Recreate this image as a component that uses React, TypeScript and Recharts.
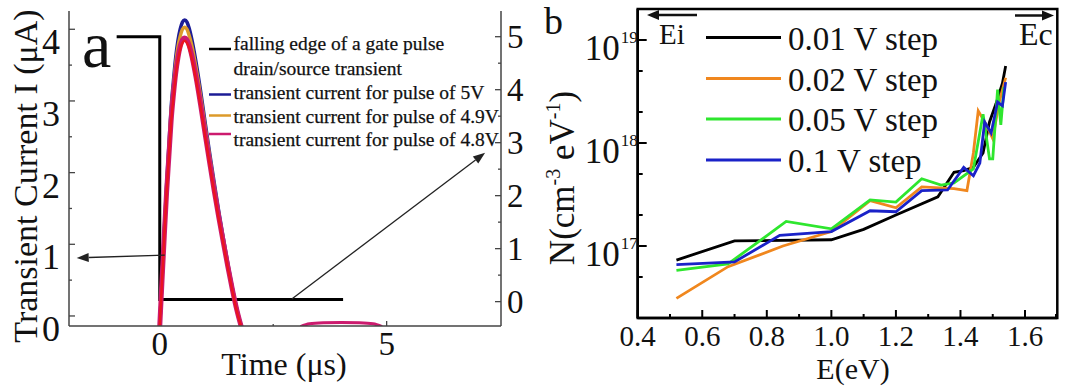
import { LineChart, Line, XAxis, YAxis, ReferenceLine, ReferenceArea } from "recharts";

const FONT = "Liberation Serif, Tinos, Times New Roman, DejaVu Serif, serif";
const fontStyle = { fontFamily: FONT };

// ---- panel a : transient currents (left axis, µA) and gate pulse (right axis, V)
const pulseTime = [0, 0.05, 0.1, 0.15, 0.2, 0.25, 0.3, 0.35, 0.4, 0.45, 0.5, 0.55, 0.6, 0.65, 0.7, 0.8, 0.9, 1.0, 1.1, 1.2, 1.3, 1.4, 1.5, 1.6, 1.7, 1.8];
const current5V = [-0.14, 0.52, 1.18, 1.82, 2.36, 2.9, 3.27, 3.6, 3.84, 4.0, 4.1, 4.13, 4.1, 4.01, 3.88, 3.54, 3.14, 2.7, 2.27, 1.86, 1.46, 1.09, 0.73, 0.39, 0.09, -0.16];
const current49V = [-0.14, 0.51, 1.15, 1.78, 2.3, 2.83, 3.19, 3.51, 3.75, 3.9, 4.0, 4.03, 4.0, 3.91, 3.79, 3.46, 3.07, 2.64, 2.22, 1.81, 1.42, 1.07, 0.71, 0.38, 0.08, -0.16];
const current48V = [-0.14, 0.5, 1.12, 1.72, 2.22, 2.72, 3.08, 3.38, 3.6, 3.76, 3.85, 3.88, 3.85, 3.77, 3.65, 3.33, 2.95, 2.54, 2.14, 1.75, 1.38, 1.03, 0.69, 0.37, 0.08, -0.16];
const currentDS = [-0.14, 0.48, 1.1, 1.7, 2.2, 2.69, 3.04, 3.34, 3.57, 3.72, 3.81, 3.84, 3.81, 3.73, 3.61, 3.29, 2.92, 2.51, 2.11, 1.72, 1.35, 1.01, 0.67, 0.35, 0.06, -0.16];

const bumpTime = [3.1, 3.3, 3.6, 4.0, 4.4, 4.7, 4.9];
const bumpCurrent = [-0.15, -0.11, -0.095, -0.09, -0.095, -0.11, -0.15];

const gateTime = [-0.95, 0, 0, 4.04];
const gateVolt = [5, 5, 0.04, 0.04];

const leftTicksA = [0, 0.5, 1, 1.5, 2, 2.5, 3, 3.5, 4];
const rightTicksA = [0, 0.5, 1, 1.5, 2, 2.5, 3, 3.5, 4, 4.5, 5];
const timeTicks = [0, 2.5, 5];

const legendA = [
  { label: "falling edge of a gate pulse", color: "#000000" },
  { label: "drain/source transient", color: "" },
  { label: "transient current for pulse of 5V", color: "#1c1c96" },
  { label: "transient current for pulse of 4.9V", color: "#dc9a2a" },
  { label: "transient current for pulse of 4.8V", color: "#cc1a6e" },
];

// ---- panel b : trap density vs energy
const energy001 = [0.52, 0.7, 1.0, 1.1, 1.2, 1.33, 1.38, 1.41, 1.44, 1.47, 1.49, 1.51, 1.53, 1.54];
const density001 = [7.3e16, 1.12e17, 1.15e17, 1.45e17, 2.0e17, 3.0e17, 5.2e17, 5.4e17, 5.8e17, 8e17, 1.6e18, 2.4e18, 3.8e18, 5.6e18];
const energy002 = [0.52, 0.68, 0.85, 1.0, 1.12, 1.2, 1.28, 1.38, 1.42, 1.44, 1.455, 1.48, 1.5, 1.52, 1.54];
const density002 = [3.1e16, 6.3e16, 1.0e17, 1.38e17, 2.76e17, 2.35e17, 3.75e17, 3.6e17, 3.45e17, 8e17, 2.05e18, 1.5e18, 1.1e18, 2.5e18, 4.3e18];
const energy005 = [0.52, 0.68, 0.86, 1.0, 1.12, 1.2, 1.28, 1.34, 1.38, 1.44, 1.47, 1.49, 1.5, 1.515, 1.525, 1.535];
const density005 = [5.8e16, 6.7e16, 1.73e17, 1.47e17, 2.8e17, 2.67e17, 4.5e17, 3.9e17, 4.1e17, 5.6e17, 1.9e18, 7e17, 7e17, 3.3e18, 1.5e18, 3.5e18];
const energy01 = [0.52, 0.7, 0.84, 1.0, 1.12, 1.2, 1.28, 1.36, 1.41, 1.44, 1.46, 1.475, 1.495, 1.515, 1.53, 1.54];
const density01 = [6.6e16, 7.0e16, 1.27e17, 1.38e17, 2.2e17, 2.15e17, 3.45e17, 3.5e17, 5.8e17, 4.8e17, 6.4e17, 1.6e18, 1.25e18, 2.5e18, 2.3e18, 3.9e18];

const energyTicks = [0.4, 0.5, 0.6, 0.7, 0.8, 0.9, 1.0, 1.1, 1.2, 1.3, 1.4, 1.5, 1.6, 1.7];
const densityTicks = [
  2e16, 3e16, 4e16, 5e16, 6e16, 7e16, 8e16, 9e16,
  1e17, 2e17, 3e17, 4e17, 5e17, 6e17, 7e17, 8e17, 9e17,
  1e18, 2e18, 3e18, 4e18, 5e18, 6e18, 7e18, 8e18, 9e18,
  1e19, 2e19,
];

const legendB = [
  { label: "0.01 V step", color: "#000000" },
  { label: "0.02 V step", color: "#f0871e" },
  { label: "0.05 V step", color: "#2ee62e" },
  { label: "0.1 V step", color: "#1a22c8" },
];

const pulseData = pulseTime.map((t, i) => ({
  t,
  i5: current5V[i],
  i49: current49V[i],
  i48: current48V[i],
  ids: currentDS[i],
}));
const bumpData = bumpTime.map((t, i) => ({ t, ib: bumpCurrent[i] }));
const gateData = gateTime.map((t, i) => ({ t, v: gateVolt[i] }));

const toPts = (xs: number[], ys: number[]) => xs.map((e, i) => ({ e, n: ys[i] }));
const seriesB = [
  { data: toPts(energy001, density001), color: legendB[0].color },
  { data: toPts(energy002, density002), color: legendB[1].color },
  { data: toPts(energy005, density005), color: legendB[2].color },
  { data: toPts(energy01, density01), color: legendB[3].color },
];

// arrow line with a filled head at (x2, y2)
function arrow(x1: number, y1: number, x2: number, y2: number, color: string, w: number, len: number, half: number, key?: string) {
  const dx = x2 - x1;
  const dy = y2 - y1;
  const d = Math.sqrt(dx * dx + dy * dy) || 1;
  const ux = dx / d;
  const uy = dy / d;
  const bx = x2 - ux * len;
  const by = y2 - uy * len;
  const pts = `${x2},${y2} ${bx - uy * half},${by + ux * half} ${bx + uy * half},${by - ux * half}`;
  return (
    <g key={key}>
      <line x1={x1} y1={y1} x2={bx} y2={by} stroke={color} strokeWidth={w} />
      <polygon points={pts} fill={color} />
    </g>
  );
}

const arrowShape = (props: any) => arrow(props.x1, props.y1, props.x2, props.y2, "#222", 1.3, 12, 4.5);

// ---- tick renderers
const LeftTickA = ({ x, y, payload }: any) => {
  const major = Number.isInteger(payload.value);
  return (
    <g>
      <line x1={x} x2={x + (major ? 6 : 3)} y1={y} y2={y} stroke="#444" strokeWidth={1.3} />
      {major && (
        <text x={x - 9} y={y + 25} textAnchor="end" fontSize={36} style={fontStyle} fill="#111">
          {payload.value}
        </text>
      )}
    </g>
  );
};

const RightTickA = ({ x, y, payload }: any) => {
  const major = Number.isInteger(payload.value);
  return (
    <g>
      <line x1={x} x2={x - (major ? 6 : 3)} y1={y} y2={y} stroke="#444" strokeWidth={1.3} />
      {major && (
        <text x={x + 6} y={y + 11} textAnchor="start" fontSize={33} style={fontStyle} fill="#111">
          {payload.value}
        </text>
      )}
    </g>
  );
};

const BottomTickA = ({ x, y, payload }: any) => {
  const major = Number.isInteger(payload.value);
  return (
    <g>
      {payload.value !== 0 && <line x1={x} x2={x} y1={y} y2={y - (major ? 5 : 2)} stroke="#444" strokeWidth={1.3} />}
      {major && (
        <text x={x} y={y + 29} textAnchor="middle" fontSize={33} style={fontStyle} fill="#111">
          {payload.value}
        </text>
      )}
    </g>
  );
};

const TopTickA = ({ x, y }: any) => (
  <line x1={x} x2={x} y1={y} y2={y + 5} stroke="#444" strokeWidth={1.3} />
);

const LeftTickB = ({ x, y, payload }: any) => {
  const exp = Math.log10(payload.value);
  const major = Math.abs(exp - Math.round(exp)) < 1e-6;
  return (
    <g>
      <line x1={x} x2={x + (major ? 9 : 5)} y1={y} y2={y} stroke="#000" strokeWidth={2} />
      {major && (
        <g style={fontStyle} fill="#111">
          <text x={x - 18} y={y + 20} textAnchor="end" fontSize={35} style={fontStyle}>10</text>
          <text x={x - 17} y={y + 3} textAnchor="start" fontSize={17} style={fontStyle}>{Math.round(exp)}</text>
        </g>
      )}
    </g>
  );
};

const BottomTickB = ({ x, y, payload }: any) => {
  const major = Math.round(payload.value * 10) % 2 === 0;
  return (
    <g>
      <line x1={x} x2={x} y1={y} y2={y - (major ? 8 : 4)} stroke="#000" strokeWidth={2} />
      {major && (
        <text x={x} y={y + 28} textAnchor="middle" fontSize={29} style={fontStyle} fill="#111">
          {Number(payload.value).toFixed(1)}
        </text>
      )}
    </g>
  );
};

function PanelA() {
  return (
    <LineChart width={540} height={387} data={pulseData} margin={{ top: 11, right: 0, bottom: 0, left: 0 }}>
      <XAxis xAxisId="b" type="number" dataKey="t" domain={[-2, 7.52]} ticks={timeTicks} allowDataOverflow
        height={61} tickSize={0} tickMargin={0} tickLine={false} tick={<BottomTickA />} axisLine={{ stroke: "#444", strokeWidth: 1.5 }} />
      <XAxis xAxisId="top" orientation="top" type="number" dataKey="t" domain={[-2, 7.52]} ticks={timeTicks} allowDataOverflow
        height={0} tickSize={0} tickMargin={0} tickLine={false} tick={<TopTickA />} axisLine={{ stroke: "#444", strokeWidth: 1.5 }} />
      <YAxis yAxisId="I" type="number" domain={[-0.14, 4.255]} ticks={leftTicksA} allowDataOverflow width={69}
        tickSize={0} tickMargin={0} tickLine={false} tick={<LeftTickA />} axisLine={{ stroke: "#444", strokeWidth: 1.5 }} />
      <YAxis yAxisId="V" orientation="right" type="number" domain={[-0.46, 5.485]} ticks={rightTicksA} allowDataOverflow width={39}
        tickSize={0} tickMargin={0} tickLine={false} tick={<RightTickA />} axisLine={{ stroke: "#444", strokeWidth: 1.5 }} />

      <Line xAxisId="b" yAxisId="V" data={gateData} dataKey="v" type="linear" stroke="#000" strokeWidth={3} dot={false} isAnimationActive={false} />
      <Line xAxisId="b" yAxisId="I" dataKey="i5" type="monotone" stroke="#1c1c96" strokeWidth={3.5} dot={false} isAnimationActive={false} />
      <Line xAxisId="b" yAxisId="I" dataKey="i49" type="monotone" stroke="#dc9a2a" strokeWidth={3.5} dot={false} isAnimationActive={false} />
      <Line xAxisId="b" yAxisId="I" dataKey="i48" type="monotone" stroke="#cc1a6e" strokeWidth={5} dot={false} isAnimationActive={false} />
      <Line xAxisId="b" yAxisId="I" dataKey="ids" type="monotone" stroke="#ea1420" strokeWidth={2.5} dot={false} isAnimationActive={false} />
      <Line xAxisId="b" yAxisId="I" data={bumpData} dataKey="ib" type="monotone" stroke="#cc1a6e" strokeWidth={3} dot={false} isAnimationActive={false} />

      <ReferenceLine xAxisId="b" yAxisId="I" segment={[{ x: 0.11, y: 0.85 }, { x: -1.83, y: 0.81 }]} shape={arrowShape} ifOverflow="visible" />
      <ReferenceLine xAxisId="b" yAxisId="V" segment={[{ x: 2.91, y: 0.05 }, { x: 7.17, y: 2.81 }]} shape={arrowShape} ifOverflow="visible" />
    </LineChart>
  );
}

function PanelB() {
  return (
    <LineChart width={526} height={387} margin={{ top: 9, right: 8.7, bottom: 0, left: 0 }}>
      <XAxis type="number" dataKey="e" domain={[0.4, 1.7]} ticks={energyTicks} allowDataOverflow height={69}
        tickSize={0} tickMargin={0} tickLine={false} tick={<BottomTickB />} axisLine={{ stroke: "#000", strokeWidth: 2.5 }} />
      <YAxis type="number" scale="log" domain={[2e16, 2e19]} ticks={densityTicks} allowDataOverflow width={97.7}
        tickSize={0} tickMargin={0} tickLine={false} tick={<LeftTickB />} axisLine={{ stroke: "#000", strokeWidth: 2.5 }} />
      <ReferenceArea x1={0.4} x2={1.7} y1={2e16} y2={2e19} fill="none" stroke="#000" strokeWidth={2.5} ifOverflow="visible" />
      {seriesB.map((s, i) => (
        <Line key={i} data={s.data} dataKey="n" type="linear" stroke={s.color} strokeWidth={2.8} dot={false} isAnimationActive={false} />
      ))}
    </LineChart>
  );
}

const legendARows = [
  { text: 50, mark: 49 },
  { text: 75, mark: 0 },
  { text: 99, mark: 94.5 },
  { text: 122.5, mark: 115.5 },
  { text: 146, mark: 134 },
];
const legendBRows = [37.5, 78.5, 119, 160];

function Overlay() {
  return (
    <svg width={1066} height={387} style={{ position: "absolute", left: 0, top: 0, pointerEvents: "none", fontFamily: FONT }}>
      {/* panel a texts */}
      <text x={82} y={67} fontSize={66} fill="#111" style={fontStyle}>a</text>
      <text transform="translate(37,176) rotate(-90)" textAnchor="middle" fontSize={34} fill="#111" style={fontStyle}>
        Transient Current I (μA)
      </text>
      <text x={284} y={375} textAnchor="middle" fontSize={32} fill="#111" style={fontStyle}>Time (μs)</text>
      {legendA.map((l, i) => (
        <g key={l.label}>
          {l.color && <line x1={209} x2={231} y1={legendARows[i].mark} y2={legendARows[i].mark} stroke={l.color} strokeWidth={2.5} />}
          <text x={233.5} y={legendARows[i].text} fontSize={19.5} fill="#111" stroke="#111" strokeWidth={0.25} style={fontStyle}>{l.label}</text>
        </g>
      ))}

      {/* panel b texts */}
      <text x={544} y={34} fontSize={38} fill="#111" style={fontStyle}>b</text>
      <text transform="translate(574,178) rotate(-90)" textAnchor="middle" fontSize={35} fill="#111" style={fontStyle}>
        N(cm<tspan dy={-14} fontSize={20}>-3</tspan>
        <tspan dy={14}> eV</tspan>
        <tspan dy={-14} fontSize={20}>-1</tspan>
        <tspan dy={14}>)</tspan>
      </text>
      <text x={853} y={379} textAnchor="middle" fontSize={30} fill="#111" style={fontStyle}>E(eV)</text>
      {arrow(697, 15, 647, 15, "#111", 2.5, 12, 5, "ei")}
      <text x={659} y={44} fontSize={29} fill="#111" style={fontStyle}>Ei</text>
      {arrow(1015, 15.5, 1054, 15.5, "#111", 2.5, 12, 5, "ec")}
      <text x={1019} y={45} fontSize={32} fill="#111" style={fontStyle}>Ec</text>
      {legendB.map((l, i) => (
        <g key={l.label}>
          <line x1={706} x2={781} y1={legendBRows[i]} y2={legendBRows[i]} stroke={l.color} strokeWidth={3} />
          <text x={788} y={legendBRows[i] + 12} fontSize={33} fill="#111" style={fontStyle}>{l.label}</text>
        </g>
      ))}
    </svg>
  );
}

export default function App() {
  return (
    <div style={{ position: "absolute", left: 0, top: 0, width: 1066, height: 387, background: "#fff", overflow: "hidden", fontFamily: FONT }}>
      <div style={{ position: "absolute", left: 0, top: 0 }}>
        <PanelA />
      </div>
      <div style={{ position: "absolute", left: 540, top: 0 }}>
        <PanelB />
      </div>
      <Overlay />
    </div>
  );
}
